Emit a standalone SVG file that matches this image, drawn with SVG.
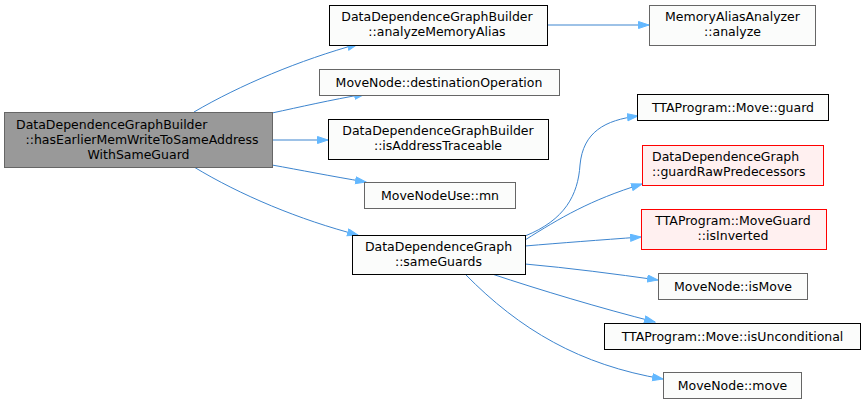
<svg xmlns="http://www.w3.org/2000/svg" width="865" height="403" viewBox="0 0 865 403">
<style>
  text { font-family: "DejaVu Sans", sans-serif; font-size: 12.5px; fill: #000; }
  .c { text-anchor: middle; }
  .l { text-anchor: start; }
  .n { fill: #fbfcfb; stroke: #666666; stroke-width: 1; }
  .b { fill: #fbfcfb; stroke: #000000; stroke-width: 1; }
  .r { fill: #fff0f0; stroke: #ff0000; stroke-width: 1; }
  .m { fill: #999999; stroke: #666666; stroke-width: 1; }
  .e { fill: none; stroke: #3d85cf; stroke-width: 1; marker-end: url(#ah); }
</style>
<defs>
  <marker id="ah" markerUnits="userSpaceOnUse" markerWidth="12" markerHeight="9" refX="11" refY="4" orient="auto">
    <path d="M0.5,0.5 L11,4 L0.5,7.5 Z" fill="#63b8ff" stroke="#63b8ff" stroke-width="1"/>
  </marker>
</defs>
<g id="edges">
  <path class="e" d="M194,112 C240,85 300,60 358,44"/>
  <path class="e" d="M272,113 C300,107 330,100 365,94"/>
  <path class="e" d="M272,140 L328,140"/>
  <path class="e" d="M272,165 C300,170 330,176 366,182"/>
  <path class="e" d="M194,167 C240,195 300,220 358,235"/>
  <path class="e" d="M547,25 L649,25"/>
  <path class="e" d="M525,236 C565,220 578,195 580,165 C583,132 605,120 638,116"/>
  <path class="e" d="M525,240 C560,218 590,200 642,184"/>
  <path class="e" d="M525,246 C560,243 600,240 641,237"/>
  <path class="e" d="M525,264 C570,268 615,274 658,280"/>
  <path class="e" d="M492,274 C540,290 600,308 655,322"/>
  <path class="e" d="M465,274 C520,330 580,365 663,379"/>
</g>
<g id="n_main">
  <rect class="m" x="4.5" y="112.5" width="268" height="55"/>
  <text class="l" x="16" y="129">DataDependenceGraphBuilder</text>
  <text class="c" x="142" y="144">::hasEarlierMemWriteToSameAddress</text>
  <text class="c" x="138.5" y="159">WithSameGuard</text>
</g>
<g id="n_analyzeMemoryAlias">
  <rect class="b" x="329.5" y="5.5" width="218" height="40"/>
  <text class="c" x="437" y="21">DataDependenceGraphBuilder</text>
  <text class="c" x="437" y="36">::analyzeMemoryAlias</text>
</g>
<g id="n_destinationOperation">
  <rect class="n" x="319.5" y="69.5" width="240" height="26"/>
  <text class="c" x="439" y="87">MoveNode::destinationOperation</text>
</g>
<g id="n_isAddressTraceable">
  <rect class="b" x="328.5" y="119.5" width="220" height="40"/>
  <text class="c" x="438" y="135">DataDependenceGraphBuilder</text>
  <text class="c" x="438" y="150">::isAddressTraceable</text>
</g>
<g id="n_mn">
  <rect class="n" x="364.5" y="182.5" width="151" height="26"/>
  <text class="c" x="440" y="200">MoveNodeUse::mn</text>
</g>
<g id="n_sameGuards">
  <rect class="b" x="352.5" y="235.5" width="173" height="39"/>
  <text class="c" x="438.5" y="251">DataDependenceGraph</text>
  <text class="c" x="438.5" y="266">::sameGuards</text>
</g>
<g id="n_MemoryAliasAnalyzer">
  <rect class="n" x="649.5" y="5.5" width="166" height="40"/>
  <text class="c" x="732.5" y="21">MemoryAliasAnalyzer</text>
  <text class="c" x="732.5" y="36">::analyze</text>
</g>
<g id="n_guard">
  <rect class="b" x="637.5" y="94.5" width="191" height="26"/>
  <text class="c" x="733" y="112">TTAProgram::Move::guard</text>
</g>
<g id="n_guardRawPredecessors">
  <rect class="r" x="642.5" y="145.5" width="181" height="40"/>
  <text class="l" x="652" y="161">DataDependenceGraph</text>
  <text class="l" x="652" y="176">::guardRawPredecessors</text>
</g>
<g id="n_isInverted">
  <rect class="r" x="641.5" y="209.5" width="185" height="40"/>
  <text class="c" x="733" y="225">TTAProgram::MoveGuard</text>
  <text class="c" x="733" y="240">::isInverted</text>
</g>
<g id="n_isMove">
  <rect class="n" x="658.5" y="273.5" width="149" height="26"/>
  <text class="c" x="733" y="291">MoveNode::isMove</text>
</g>
<g id="n_isUnconditional">
  <rect class="b" x="604.5" y="323.5" width="256" height="26"/>
  <text class="c" x="732.5" y="341">TTAProgram::Move::isUnconditional</text>
</g>
<g id="n_move">
  <rect class="n" x="663.5" y="372.5" width="138" height="26"/>
  <text class="c" x="732.5" y="390">MoveNode::move</text>
</g>
</svg>
